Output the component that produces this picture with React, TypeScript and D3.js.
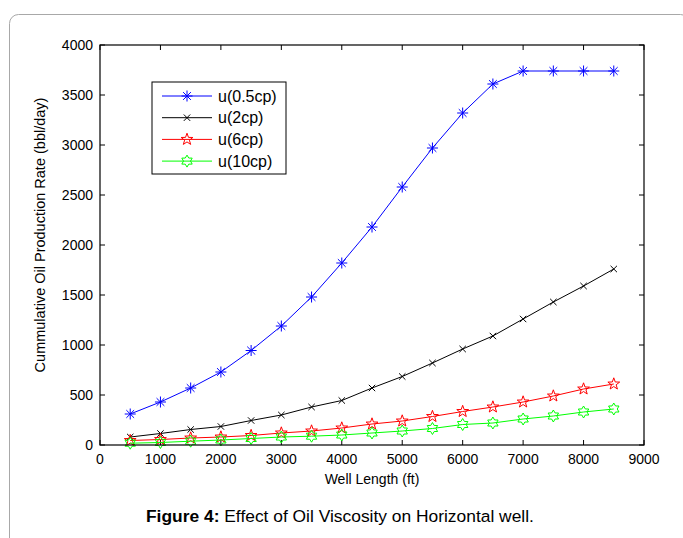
import React from "react";
import * as d3 from "d3";

// Well length (ft) and cumulative oil production rate (bbl/day) per viscosity
const wellLength = [500, 1000, 1500, 2000, 2500, 3000, 3500, 4000, 4500, 5000, 5500, 6000, 6500, 7000, 7500, 8000, 8500];
const u05 = [310, 430, 570, 730, 945, 1190, 1480, 1820, 2180, 2580, 2970, 3320, 3610, 3740, 3740, 3740, 3740];
const u2 = [80, 115, 155, 185, 245, 300, 380, 445, 570, 685, 820, 960, 1090, 1260, 1430, 1590, 1760];
const u6 = [45, 55, 70, 80, 95, 120, 140, 170, 210, 240, 285, 335, 380, 430, 490, 560, 610];
const u10 = [18, 25, 38, 50, 65, 80, 88, 100, 120, 140, 165, 205, 220, 260, 290, 330, 360];

const seriesNames = ["u(0.5cp)", "u(2cp)", "u(6cp)", "u(10cp)"];
const seriesValues = [u05, u2, u6, u10];
const seriesColors = ["#0000ff", "#000000", "#ff0000", "#00ff00"];
const seriesMarkers = ["asterisk", "cross", "pentagram", "hexagram"];

const xTicks = [0, 1000, 2000, 3000, 4000, 5000, 6000, 7000, 8000, 9000];
const yTicks = [0, 500, 1000, 1500, 2000, 2500, 3000, 3500, 4000];

const W = 683;
const H = 538;
const plot = { left: 100, right: 644, top: 45, bottom: 445 };
const FONT = "'Liberation Sans', Arial, Helvetica, sans-serif";

function starPath(points: number, rOuter: number, rInner: number): string {
  const pts: [number, number][] = [];
  for (let i = 0; i < points * 2; i++) {
    const r = i % 2 === 0 ? rOuter : rInner;
    const a = -Math.PI / 2 + (i * Math.PI) / points;
    pts.push([r * Math.cos(a), r * Math.sin(a)]);
  }
  return d3.line()(pts)! + "Z";
}

function markerPath(kind: string): string {
  if (kind === "asterisk") {
    const r = 5.5;
    const d = r * Math.SQRT1_2;
    return `M${-r},0L${r},0M0,${-r}L0,${r}M${-d},${-d}L${d},${d}M${-d},${d}L${d},${-d}`;
  }
  if (kind === "cross") {
    const r = 3.2;
    return `M${-r},${-r}L${r},${r}M${-r},${r}L${r},${-r}`;
  }
  if (kind === "pentagram") return starPath(5, 6.2, 2.5);
  return starPath(6, 6, 3.5);
}

export default function App() {
  const x = d3.scaleLinear().domain([0, 9000]).range([plot.left, plot.right]);
  const y = d3.scaleLinear().domain([0, 4000]).range([plot.bottom, plot.top]);
  const line = d3
    .line<number>()
    .x((_, i) => x(wellLength[i]))
    .y((v) => y(v));

  const tickLen = 5;
  const legend = { x: 152, y: 82, w: 134, h: 92, rowH: 21.7 };

  return (
    <div style={{ position: "absolute", left: 0, top: 0 }}>
      <svg width={W} height={H} style={{ display: "block", background: "#fff" }} fontFamily={FONT}>
        {/* outer rounded panel */}
        <rect x={9.5} y={14.5} width={680} height={560} rx={9} fill="none" stroke="#a8a8a8" strokeWidth={1} />

        {/* ticks on all four sides, pointing inward */}
        <g stroke="#000" strokeWidth={1}>
          {xTicks.map((t) => (
            <g key={"xt" + t}>
              <line x1={x(t)} x2={x(t)} y1={plot.bottom} y2={plot.bottom - tickLen} />
              <line x1={x(t)} x2={x(t)} y1={plot.top} y2={plot.top + tickLen} />
            </g>
          ))}
          {yTicks.map((t) => (
            <g key={"yt" + t}>
              <line x1={plot.left} x2={plot.left + tickLen} y1={y(t)} y2={y(t)} />
              <line x1={plot.right} x2={plot.right - tickLen} y1={y(t)} y2={y(t)} />
            </g>
          ))}
        </g>

        {/* series lines and markers */}
        {seriesValues.map((vals, s) => (
          <g key={seriesNames[s]}>
            <path d={line(vals)!} fill="none" stroke={seriesColors[s]} strokeWidth={1} />
            {vals.map((v, i) => (
              <path
                key={i}
                d={markerPath(seriesMarkers[s])}
                transform={`translate(${x(wellLength[i])},${y(v)})`}
                fill="none"
                stroke={seriesColors[s]}
                strokeWidth={1}
              />
            ))}
          </g>
        ))}

        {/* axes box */}
        <rect
          x={plot.left}
          y={plot.top}
          width={plot.right - plot.left}
          height={plot.bottom - plot.top}
          fill="none"
          stroke="#000"
          strokeWidth={1.2}
        />

        {/* tick labels */}
        <g fontSize={14} fill="#000">
          {xTicks.map((t) => (
            <text key={"xl" + t} x={x(t)} y={plot.bottom + 19} textAnchor="middle">
              {t}
            </text>
          ))}
          {yTicks.map((t) => (
            <text key={"yl" + t} x={plot.left - 7} y={y(t) + 5} textAnchor="end">
              {t}
            </text>
          ))}
        </g>

        {/* axis titles */}
        <text x={372} y={484} fontSize={14} textAnchor="middle">
          Well Length (ft)
        </text>
        <text transform={`translate(45,235) rotate(-90)`} fontSize={14.5} textAnchor="middle">
          Cummulative Oil Production Rate (bbl/day)
        </text>

        {/* legend */}
        <g>
          <rect x={legend.x} y={legend.y} width={legend.w} height={legend.h} fill="#fff" stroke="#000" strokeWidth={1} />
          {seriesNames.map((name, s) => {
            const cy = legend.y + 14 + s * legend.rowH;
            return (
              <g key={"lg" + name}>
                <line x1={legend.x + 10} x2={legend.x + 60} y1={cy} y2={cy} stroke={seriesColors[s]} strokeWidth={1} />
                <path
                  d={markerPath(seriesMarkers[s])}
                  transform={`translate(${legend.x + 35},${cy})`}
                  fill="none"
                  stroke={seriesColors[s]}
                  strokeWidth={1}
                />
                <text x={legend.x + 66} y={cy + 5.5} fontSize={16}>
                  {name}
                </text>
              </g>
            );
          })}
        </g>

        {/* caption */}
        <text x={146} y={522} fontSize={17.4}>
          <tspan fontWeight="bold">Figure 4:</tspan>
          <tspan> Effect of Oil Viscosity on Horizontal well.</tspan>
        </text>
      </svg>
    </div>
  );
}
